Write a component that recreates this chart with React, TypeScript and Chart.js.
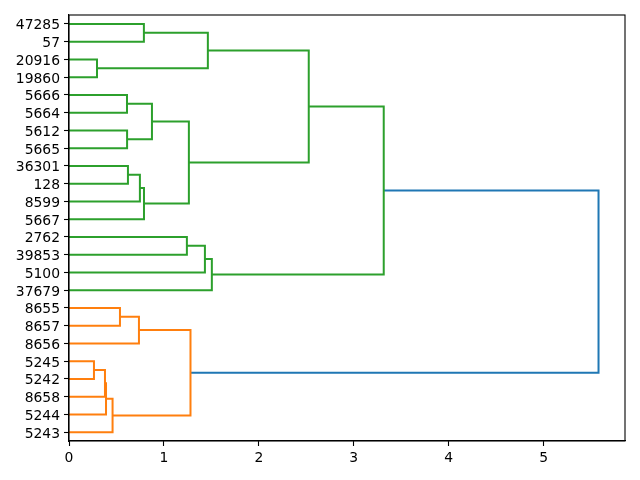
import React, { useEffect, useRef } from "react";
import { Chart, registerables } from "chart.js";

Chart.register(...registerables);

const leafLabels = [
  "47285", "57", "20916", "19860", "5666", "5664", "5612", "5665",
  "36301", "128", "8599", "5667", "2762", "39853", "5100", "37679",
  "8655", "8657", "8656", "5245", "5242", "8658", "5244", "5243",
];

// merges (node ids: leaves 0..23, merged clusters 24..)
const mergeA = [19, 2, 24, 26, 27, 16, 4, 6, 8, 29, 32, 0, 34, 30, 12, 37, 33, 38, 35, 41, 42, 44, 45];
const mergeB = [20, 3, 21, 22, 23, 17, 5, 7, 9, 18, 10, 1, 11, 31, 13, 36, 28, 14, 25, 15, 39, 43, 40];
const mergeHeight = [
  0.263, 0.295, 0.379, 0.39, 0.459, 0.537, 0.611, 0.612, 0.621, 0.737, 0.747, 0.789,
  0.79, 0.874, 1.242, 1.263, 1.28, 1.432, 1.463, 1.505, 2.526, 3.316, 5.579,
];
const mergeColor = [
  "o", "g", "o", "o", "o", "o", "g", "g", "g", "o", "g", "g",
  "g", "g", "g", "g", "o", "g", "g", "g", "g", "g", "b",
];
const xTicks = [0, 1, 2, 3, 4, 5];

const palette: Record<string, string> = { g: "#2ca02c", o: "#ff7f0e", b: "#1f77b4" };

export default function App() {
  const ref = useRef<HTMLCanvasElement | null>(null);
  useEffect(() => {
    if (!ref.current) return;
    const nodeX: number[] = leafLabels.map(() => 0);
    const nodeY: number[] = leafLabels.map((_, i) => 5 + 10 * i);
    const datasets: any[] = [];
    mergeA.forEach((a, k) => {
      const b = mergeB[k];
      const h = mergeHeight[k];
      datasets.push({
        data: [
          { x: nodeX[a], y: nodeY[a] },
          { x: h, y: nodeY[a] },
          { x: h, y: nodeY[b] },
          { x: nodeX[b], y: nodeY[b] },
        ],
        borderColor: palette[mergeColor[k]],
        borderWidth: 2,
        showLine: true,
        pointRadius: 0,
        tension: 0,
        fill: false,
      });
      nodeX.push(h);
      nodeY.push((nodeY[a] + nodeY[b]) / 2);
    });
    const maxH = Math.max(...mergeHeight) * 1.05;
    const frame = {
      id: "frame",
      afterDraw(chart: any) {
        const { ctx, chartArea: ca } = chart;
        ctx.save();
        ctx.strokeStyle = "#000";
        ctx.lineWidth = 1.1;
        ctx.strokeRect(ca.left, ca.top, ca.right - ca.left, ca.bottom - ca.top);
        ctx.restore();
      },
    };
    const font = { family: "DejaVu Sans", size: 13.9 };
    const chart = new Chart(ref.current, {
      type: "scatter",
      data: { datasets },
      plugins: [frame],
      options: {
        animation: false,
        responsive: false,
        layout: { padding: { top: 15, right: 15, left: 0, bottom: 0 } },
        plugins: { legend: { display: false }, tooltip: { enabled: false } },
        scales: {
          x: {
            type: "linear",
            min: 0,
            max: maxH,
            afterBuildTicks: (s: any) => {
              s.ticks = xTicks.map((v) => ({ value: v }));
            },
            afterFit: (s: any) => {
              s.height = 39;
            },
            ticks: { color: "#000", font, padding: 4, maxRotation: 0, callback: (v: any) => String(v) },
            grid: { drawOnChartArea: false, tickLength: 5, color: "#000", tickWidth: 1.1 },
            border: { display: true, color: "#000", width: 1.1 },
          },
          y: {
            type: "linear",
            min: 0,
            max: leafLabels.length * 10,
            reverse: true,
            afterBuildTicks: (s: any) => {
              s.ticks = leafLabels.map((_, i) => ({ value: 5 + 10 * i }));
            },
            afterFit: (s: any) => {
              s.width = 69;
            },
            ticks: {
              color: "#000",
              font,
              padding: 4,
              labelOffset: 2,
              autoSkip: false,
              callback: (v: any) => leafLabels[Math.round((Number(v) - 5) / 10)] ?? "",
            },
            grid: { drawOnChartArea: false, tickLength: 5, color: "#000", tickWidth: 1.1 },
            border: { display: true, color: "#000", width: 1.1 },
          },
        },
      },
    });
    return () => chart.destroy();
  }, []);
  return (
    <div style={{ position: "fixed", left: 0, top: 0, width: 640, height: 480, background: "#fff" }}>
      <canvas ref={ref} width={640} height={480} />
    </div>
  );
}
